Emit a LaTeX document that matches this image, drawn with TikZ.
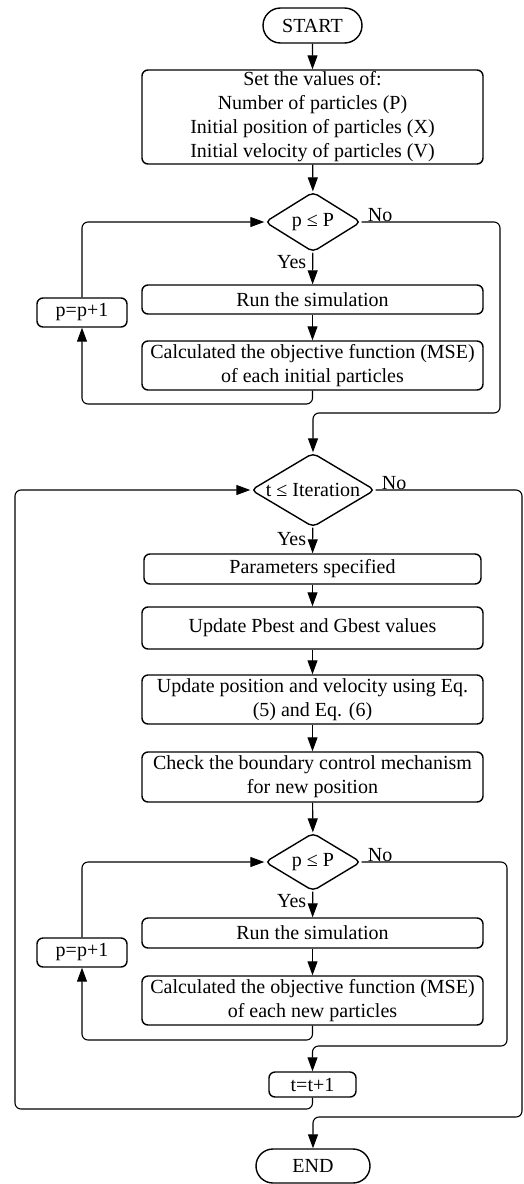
\documentclass[tikz,border=0pt]{standalone}
\usepackage{fontspec}
\setmainfont{Liberation Serif}
\usetikzlibrary{shapes.geometric,shapes.misc,arrows.meta}
\begin{document}
\begin{tikzpicture}[x=1pt,y=-1pt,
  font=\fontsize{20}{24}\selectfont,
  box/.style={draw,line width=1.4pt,rounded corners=6pt,align=center,inner sep=0pt},
  term/.style={draw,line width=1.4pt,rounded rectangle,inner sep=0pt},
  decision/.style={draw,line width=1.4pt,diamond,rounded corners=5pt,inner sep=0pt},
  conn/.style={line width=1.1pt,rounded corners=6pt},
  arr/.style={conn,-{Triangle[length=14pt,width=10pt]}},
  lbl/.style={inner sep=1pt},
  yes/.style={lbl,anchor=east,xshift=-5pt}]
\useasboundingbox (0,0) rectangle (523,1184);

% initialisation stage
\node[term,minimum width=99pt,minimum height=35pt] (start) at (312.5,25.5) {START};
\node[box,minimum width=341pt,minimum height=94pt] (init) at (312.5,117)
  {Set the values of:\\Number of particles (P)\\Initial position of particles (X)\\Initial velocity of particles (V)};
\node[decision,aspect=1.6,minimum width=96pt,minimum height=60pt] (d1) at (313,222) {p ≤ P};
\node[box,minimum width=341pt,minimum height=29pt] (run1) at (312.5,299.5) {Run the simulation};
\node[box,minimum width=341pt,minimum height=49pt] (calc1) at (312.5,365.5)
  {Calculated the objective function (MSE)\\of each initial particles};
\node[box,minimum width=90pt,minimum height=29pt] (inc1) at (82,312.5) {p=p+1};

% main iteration
\node[decision,aspect=1.68,minimum width=124pt,minimum height=74pt] (d2) at (313,490) {t ≤ Iteration};
\node[box,minimum width=337pt,minimum height=30pt] (param) at (312.5,569) {Parameters specified};
\node[box,minimum width=341pt,minimum height=42pt] (upd) at (312.5,628) {Update Pbest and Gbest values};
\node[box,minimum width=341pt,minimum height=49pt] (pos) at (312.5,699.5)
  {Update position and velocity using Eq.\\(5) and Eq. (6)};
\node[box,minimum width=341pt,minimum height=50pt] (chk) at (312.5,777)
  {Check the boundary control mechanism\\for new position};
\node[decision,aspect=1.65,minimum width=96pt,minimum height=58pt] (d3) at (313,862) {p ≤ P};
\node[box,minimum width=341pt,minimum height=30pt] (run2) at (312.5,933) {Run the simulation};
\node[box,minimum width=341pt,minimum height=49pt] (calc2) at (312.5,1000.5)
  {Calculated the objective function (MSE)\\of each new particles};
\node[box,minimum width=90pt,minimum height=29pt] (inc2) at (82,952.5) {p=p+1};
\node[box,minimum width=87pt,minimum height=25pt] (tinc) at (312.5,1084.5) {t=t+1};
\node[term,minimum width=114pt,minimum height=34pt] (end) at (313,1166) {END};

% routing points
\coordinate (a1) at (82,404);
\coordinate (r1) at (500,413);
\coordinate (a2) at (82,1040);
\coordinate (r2) at (507,1046);
\coordinate (lc) at (15,1109);
\coordinate (r3) at (522,1117);

% straight flow
\draw[arr] (start) -- (init);
\draw[arr] (init) -- (d1);
\draw[arr] (d1) -- (run1) node[yes,pos=0.3] {Yes};
\draw[arr] (run1) -- (calc1);
\draw[arr] (d2) -- (param) node[yes,pos=0.45] {Yes};
\draw[arr] (param) -- (upd);
\draw[arr] (upd) -- (pos);
\draw[arr] (pos) -- (chk);
\draw[arr] (chk) -- (d3);
\draw[arr] (d3) -- (run2) node[yes,pos=0.35] {Yes};
\draw[arr] (run2) -- (calc2);

% particle loops
\draw[arr] (calc1.south) |- (a1) -- (inc1.south);
\draw[arr] (inc1.north) |- (d1.west);
\draw[arr] (calc2.south) |- (a2) -- (inc2.south);
\draw[arr] (inc2.north) |- (d3.west);

% exits of the decisions
\draw[arr] (d1.east) -| (r1) -| (d2.north);
\node[lbl,anchor=south west] at ([xshift=5pt,yshift=-1pt]d1.east) {No};
\draw[arr] (d3.east) -| (r2) -| (tinc.north);
\node[lbl,anchor=south west] at ([xshift=5pt,yshift=-1pt]d3.east) {No};
\draw[arr] (tinc.south) |- (lc) |- (d2.west);
\draw[arr] (d2.east) -| (r3) -| (end.north);
\node[lbl,anchor=south west] at ([xshift=5pt,yshift=-1pt]d2.east) {No};
\end{tikzpicture}
\end{document}
